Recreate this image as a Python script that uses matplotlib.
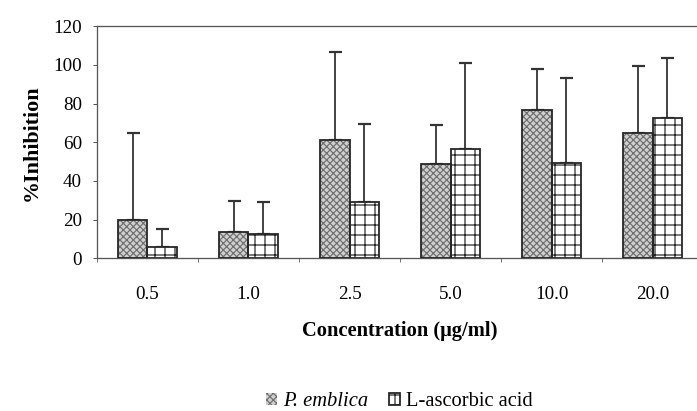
import numpy as np
import matplotlib
matplotlib.use("Agg")
import matplotlib.pyplot as plt

DPI = 120


def px(v):
    """Convert a size in output pixels to points."""
    return v * 72.0 / DPI


plt.rcParams['font.family'] = ['Liberation Serif', 'DejaVu Serif']
plt.rcParams['hatch.linewidth'] = px(1.2)

concentrations = ["0.5", "1.0", "2.5", "5.0", "10.0", "20.0"]
emblica_mean = [20, 13.5, 61, 48.5, 76.5, 65]
emblica_sd = [45, 16, 45.5, 20.5, 21.5, 34.5]
ascorbic_mean = [6, 12.5, 29, 56.5, 49.5, 72.5]
ascorbic_sd = [9, 16.5, 40.5, 44.5, 43.5, 31]
yticks = [0, 20, 40, 60, 80, 100, 120]

fig = plt.figure(figsize=(697 / DPI, 411 / DPI), dpi=DPI)
ax = fig.add_axes([0.139, 0.3715, 0.87, 0.565])

x = np.arange(len(concentrations))
w = 0.29
edge = '#262626'

# P. emblica: fine cross-hatched grey fill
b1 = ax.bar(x - w / 2, emblica_mean, w, color='#d0d0d0', edgecolor='#707070',
            hatch='xxxxxx', linewidth=0, zorder=2)
ax.bar(x - w / 2, emblica_mean, w, fill=False, edgecolor=edge,
       linewidth=px(1.8), zorder=3)
# L-ascorbic acid: open grid hatch
b2 = ax.bar(x + w / 2, ascorbic_mean, w, color='white', edgecolor=edge,
            hatch='++', linewidth=px(1.8), zorder=2)

# one-sided (upper) error bars
for xpos, mean, sd in ((x - w / 2, emblica_mean, emblica_sd),
                       (x + w / 2, ascorbic_mean, ascorbic_sd)):
    ax.errorbar(xpos, mean, yerr=[np.zeros(len(x)), sd], fmt='none',
                ecolor='#333333', elinewidth=px(1.8), capsize=px(6.5),
                capthick=px(2.2), zorder=1)

ax.set_xlim(-0.5, len(x) - 0.5)
ax.set_ylim(0, 120)
ax.set_yticks(yticks)
ax.set_yticklabels([str(v) for v in yticks], fontsize=px(19))
ax.tick_params(axis='y', length=px(4), width=px(1.0), color='#555555', pad=px(11))

# category labels at centres, small tick marks between groups
ax.set_xticks(x)
ax.set_xticklabels(concentrations, fontsize=px(19))
ax.set_xticks(np.arange(len(x) + 1) - 0.5, minor=True)
ax.tick_params(axis='x', which='major', length=0, pad=px(28))
ax.tick_params(axis='x', which='minor', length=px(4), width=px(1.0), color='#777777')

for side in ('top', 'bottom', 'left'):
    ax.spines[side].set_color('#555555')
    ax.spines[side].set_linewidth(px(1.3))
ax.spines['right'].set_visible(False)

ax.set_ylabel('%Inhibition', fontsize=px(22), fontweight='bold', labelpad=px(12))
ax.set_xlabel('Concentration (μg/ml)', fontsize=px(20.5), fontweight='bold',
              labelpad=px(18))

leg = fig.legend([b1, b2], ['P. emblica', 'L-ascorbic acid'],
                 loc='center', bbox_to_anchor=(0.573, 0.022), ncol=2, frameon=False,
                 fontsize=px(20.5), handlelength=0.55, handleheight=0.55,
                 handletextpad=0.3, columnspacing=1.0)
leg.get_texts()[0].set_style('italic')

fig.savefig('out.png', dpi=DPI)
